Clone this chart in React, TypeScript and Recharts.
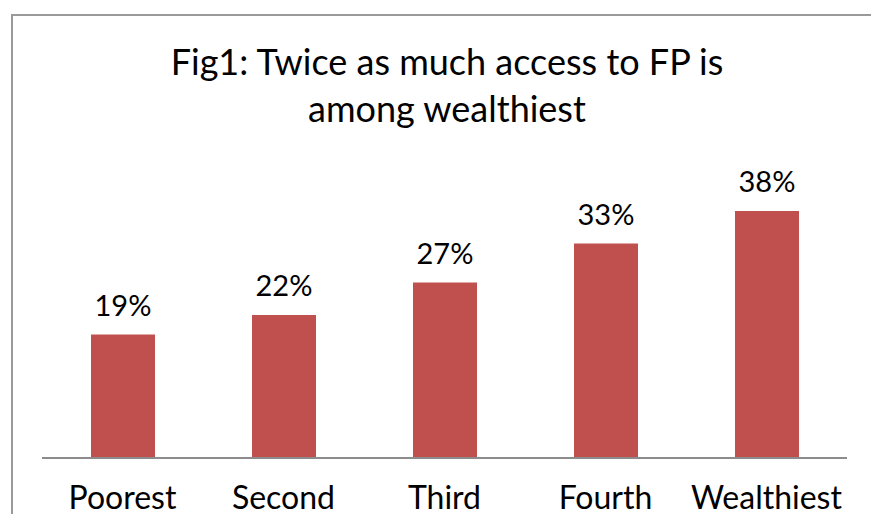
import { Bar, BarChart, LabelList, XAxis, YAxis } from 'recharts';

const categories = ['Poorest', 'Second', 'Third', 'Fourth', 'Wealthiest'];
const access = [0.19, 0.22, 0.27, 0.33, 0.38];
const titleLines = ['Fig1: Twice as much access to FP is', 'among wealthiest'];

const data = categories.map((name, i) => ({ name, access: access[i] }));

const FONT = 'Lato, "Open Sans", sans-serif';

export default function App() {
  return (
    <div
      style={{
        position: 'relative',
        width: 879,
        height: 522,
        margin: -8,
        overflow: 'hidden',
        background: '#fff',
        fontFamily: FONT,
      }}
    >
      <div
        style={{
          position: 'absolute',
          left: 11,
          top: 14,
          width: 900,
          height: 540,
          border: '2px solid #9a9a9a',
          boxSizing: 'border-box',
        }}
      />
      <svg
        width={879}
        height={140}
        style={{ position: 'absolute', left: 0, top: 0 }}
      >
        {titleLines.map((line, i) => (
          <text
            key={line}
            x={447}
            y={75 + i * 47}
            textAnchor="middle"
            fontSize={36}
            fontFamily={FONT}
            fill="#000"
          >
            {line}
          </text>
        ))}
      </svg>
      <div style={{ position: 'absolute', left: 0, top: 0 }}>
        <BarChart
          width={879}
          height={522}
          data={data}
          margin={{ top: 165.5, right: 32, bottom: 24, left: 42 }}
        >
          <XAxis
            dataKey="name"
            height={40}
            axisLine={{ stroke: '#8c8c8c', strokeWidth: 2 }}
            tickLine={false}
            tickSize={0}
            tickMargin={28}
            interval={0}
            tick={{ fontSize: 32, fill: '#000', fontFamily: FONT }}
          />
          <YAxis hide domain={[0, 0.45]} />
          <Bar dataKey="access" fill="#c0504d" barSize={64} isAnimationActive={false}>
            <LabelList
              dataKey="access"
              position="top"
              offset={19}
              formatter={(v: number) => `${Math.round(v * 100)}%`}
              style={{ fontSize: 29, fill: '#000', fontFamily: FONT }}
            />
          </Bar>
        </BarChart>
      </div>
    </div>
  );
}
